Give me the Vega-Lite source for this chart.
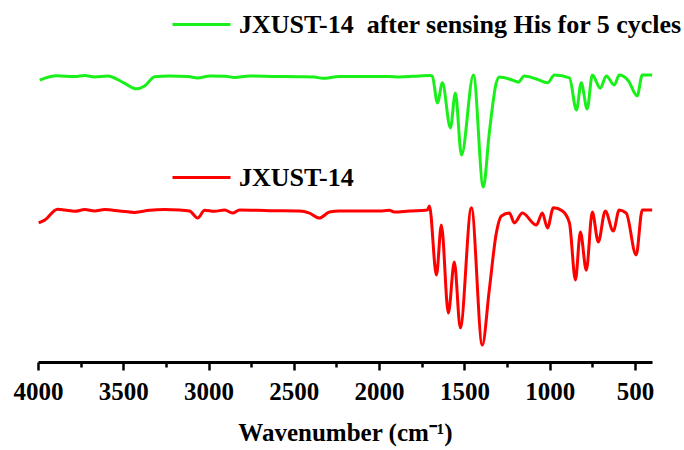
{
  "$schema": "https://vega.github.io/schema/vega-lite/v6.json",
  "width": 614,
  "height": 352,
  "autosize": {"type": "none"},
  "padding": {"left": 38, "top": 10, "right": 32, "bottom": 88},
  "background": "white",
  "config": {"view": {"stroke": null}},
  "datasets": {
    "green": [
      {"wn": 3990, "t": 80.1}, {"wn": 3890, "t": 81.3}, {"wn": 3785, "t": 81.1}, {"wn": 3726, "t": 81.4},
      {"wn": 3668, "t": 81.0}, {"wn": 3592, "t": 81.25}, {"wn": 3500, "t": 79.4}, {"wn": 3422, "t": 77.6},
      {"wn": 3375, "t": 78.4}, {"wn": 3316, "t": 81.05}, {"wn": 3228, "t": 81.25}, {"wn": 3120, "t": 81.1},
      {"wn": 3064, "t": 80.7}, {"wn": 2994, "t": 81.25}, {"wn": 2900, "t": 81.2}, {"wn": 2848, "t": 80.8},
      {"wn": 2760, "t": 81.25}, {"wn": 2600, "t": 81.1}, {"wn": 2467, "t": 81.05}, {"wn": 2380, "t": 81.0},
      {"wn": 2332, "t": 80.6}, {"wn": 2233, "t": 81.1}, {"wn": 2100, "t": 81.1}, {"wn": 1940, "t": 81.1},
      {"wn": 1881, "t": 81.0}, {"wn": 1800, "t": 81.15}, {"wn": 1700, "t": 81.4}, {"wn": 1688, "t": 81.2},
      {"wn": 1658, "t": 73.6}, {"wn": 1629, "t": 79.3}, {"wn": 1582, "t": 66.5}, {"wn": 1553, "t": 76.4},
      {"wn": 1517, "t": 58.8}, {"wn": 1447, "t": 81.5}, {"wn": 1389, "t": 49.7}, {"wn": 1354, "t": 65.1},
      {"wn": 1313, "t": 79.3}, {"wn": 1295, "t": 81.0}, {"wn": 1219, "t": 80.1}, {"wn": 1184, "t": 79.5},
      {"wn": 1149, "t": 81.25}, {"wn": 1078, "t": 80.4}, {"wn": 1013, "t": 79.3}, {"wn": 972, "t": 81.5},
      {"wn": 884, "t": 80.7}, {"wn": 843, "t": 71.6}, {"wn": 815, "t": 79.3}, {"wn": 780, "t": 71.9},
      {"wn": 750, "t": 81.5}, {"wn": 703, "t": 77.8}, {"wn": 668, "t": 81.25}, {"wn": 621, "t": 78.7},
      {"wn": 592, "t": 81.5}, {"wn": 540, "t": 80.0}, {"wn": 487, "t": 75.6}, {"wn": 457, "t": 81.5},
      {"wn": 399, "t": 81.5}
    ],
    "red": [
      {"wn": 3996, "t": 39.5}, {"wn": 3961, "t": 40.3}, {"wn": 3885, "t": 43.4}, {"wn": 3844, "t": 43.2},
      {"wn": 3785, "t": 42.8}, {"wn": 3726, "t": 43.3}, {"wn": 3668, "t": 42.9}, {"wn": 3609, "t": 43.3},
      {"wn": 3521, "t": 42.9}, {"wn": 3433, "t": 42.5}, {"wn": 3346, "t": 43.1}, {"wn": 3258, "t": 43.3},
      {"wn": 3170, "t": 43.2}, {"wn": 3111, "t": 42.9}, {"wn": 3064, "t": 40.9}, {"wn": 3023, "t": 43.1},
      {"wn": 2965, "t": 42.8}, {"wn": 2906, "t": 43.2}, {"wn": 2859, "t": 42.3}, {"wn": 2818, "t": 43.2},
      {"wn": 2642, "t": 43.0}, {"wn": 2467, "t": 42.9}, {"wn": 2408, "t": 42.3}, {"wn": 2350, "t": 40.9},
      {"wn": 2291, "t": 42.6}, {"wn": 2233, "t": 42.9}, {"wn": 1999, "t": 42.9}, {"wn": 1940, "t": 43.1},
      {"wn": 1911, "t": 42.6}, {"wn": 1823, "t": 42.9}, {"wn": 1717, "t": 43.2}, {"wn": 1705, "t": 44.3},
      {"wn": 1664, "t": 24.7}, {"wn": 1635, "t": 38.9}, {"wn": 1594, "t": 13.9}, {"wn": 1559, "t": 28.4},
      {"wn": 1524, "t": 9.7}, {"wn": 1459, "t": 43.8}, {"wn": 1395, "t": 4.8}, {"wn": 1354, "t": 20.5},
      {"wn": 1313, "t": 36.6}, {"wn": 1283, "t": 41.5}, {"wn": 1236, "t": 42.3}, {"wn": 1207, "t": 39.5},
      {"wn": 1160, "t": 42.3}, {"wn": 1078, "t": 38.9}, {"wn": 1043, "t": 42.3}, {"wn": 1013, "t": 38.1},
      {"wn": 978, "t": 43.8}, {"wn": 925, "t": 42.9}, {"wn": 884, "t": 39.5}, {"wn": 849, "t": 23.3},
      {"wn": 820, "t": 36.9}, {"wn": 785, "t": 26.1}, {"wn": 750, "t": 42.6}, {"wn": 715, "t": 34.1},
      {"wn": 674, "t": 42.9}, {"wn": 627, "t": 37.2}, {"wn": 592, "t": 43.2}, {"wn": 551, "t": 42.3},
      {"wn": 493, "t": 30.4}, {"wn": 457, "t": 43.2}, {"wn": 399, "t": 43.2}
    ]
  },
  "layer": [
    {
      "data": {"name": "green"},
      "transform": [{"calculate": "'JXUST-14\u00a0 after sensing His for 5 cycles'", "as": "sample"}],
      "mark": {"type": "line", "interpolate": "monotone", "strokeWidth": 3, "strokeJoin": "round"},
      "encoding": {
        "x": {
          "field": "wn", "type": "quantitative",
          "scale": {"domain": [4000, 400], "nice": false, "zero": false},
          "axis": {
            "orient": "bottom",
            "values": [4000, 3750, 3500, 3250, 3000, 2750, 2500, 2250, 2000, 1750, 1500, 1250, 1000, 750, 500],
            "format": "d",
            "labelExpr": "datum.value % 500 === 0 ? datum.label : ''",
            "title": "Wavenumber (cm\u207b\u00b9)",
            "grid": false,
            "domainColor": "black", "domainWidth": 3,
            "tickColor": "black", "tickWidth": 2.5,
            "tickSize": {"condition": {"test": "datum.value % 500 === 0", "value": 8}, "value": 5},
            "labelFont": "Liberation Serif", "labelFontSize": 25, "labelFontWeight": "bold",
            "labelColor": "black", "labelPadding": 9, "labelOverlap": false, "labelFlush": false,
            "titleFont": "Liberation Serif", "titleFontSize": 25, "titleFontWeight": "bold",
            "titleColor": "black", "titlePadding": 16
          }
        },
        "y": {"field": "t", "type": "quantitative", "scale": {"domain": [0, 100], "nice": false}, "axis": null},
        "color": {
          "field": "sample", "type": "nominal",
          "scale": {"domain": ["JXUST-14\u00a0 after sensing His for 5 cycles"], "range": ["#19F019"]},
          "legend": {
            "orient": "none", "legendX": 133, "legendY": -16, "title": null, "padding": 0,
            "symbolType": "stroke", "symbolSize": 3364, "symbolStrokeWidth": 3,
            "labelFont": "Liberation Serif", "labelFontSize": 26, "labelFontWeight": "bold",
            "labelColor": "black", "labelLimit": 1000, "labelOffset": 7
          }
        }
      }
    },
    {
      "data": {"name": "red"},
      "transform": [{"calculate": "'JXUST-14'", "as": "sample"}],
      "mark": {"type": "line", "interpolate": "monotone", "strokeWidth": 3, "strokeJoin": "round"},
      "encoding": {
        "x": {"field": "wn", "type": "quantitative"},
        "y": {"field": "t", "type": "quantitative"},
        "color": {
          "field": "sample", "type": "nominal",
          "scale": {"domain": ["JXUST-14"], "range": ["#FF0000"]},
          "legend": {
            "orient": "none", "legendX": 133, "legendY": 137, "title": null, "padding": 0,
            "symbolType": "stroke", "symbolSize": 3364, "symbolStrokeWidth": 3,
            "labelFont": "Liberation Serif", "labelFontSize": 26, "labelFontWeight": "bold",
            "labelColor": "black", "labelLimit": 1000, "labelOffset": 7
          }
        }
      }
    }
  ],
  "resolve": {"scale": {"color": "independent"}}
}
